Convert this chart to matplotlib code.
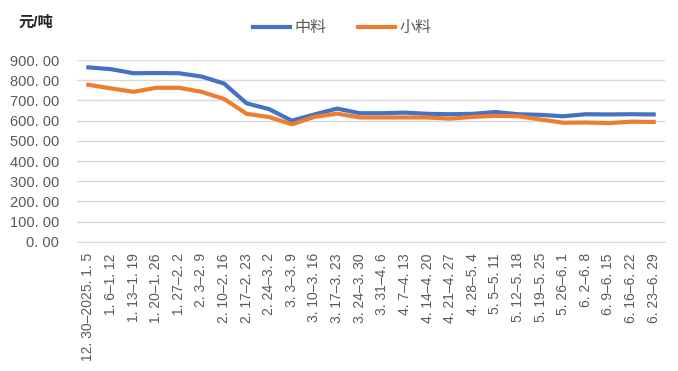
import matplotlib
matplotlib.use("Agg")
import matplotlib.pyplot as plt
import numpy as np

plt.rcParams['font.family'] = ['Liberation Sans', 'Noto Sans CJK SC', 'DejaVu Sans']

weeks = ["12. 30–2025. 1. 5", "1. 6–1. 12", "1. 13–1. 19", "1. 20–1. 26", "1. 27–2. 2",
         "2. 3–2. 9", "2. 10–2. 16", "2. 17–2. 23", "2. 24–3. 2", "3. 3–3. 9",
         "3. 10–3. 16", "3. 17–3. 23", "3. 24–3. 30", "3. 31–4. 6", "4. 7–4. 13",
         "4. 14–4. 20", "4. 21–4. 27", "4. 28–5. 4", "5. 5–5. 11", "5. 12–5. 18",
         "5. 19–5. 25", "5. 26–6. 1", "6. 2–6. 8", "6. 9–6. 15", "6. 16–6. 22",
         "6. 23–6. 29"]

medium = [864, 855, 835, 836, 835, 819, 784, 686, 657, 600,
          631, 660, 637, 637, 640, 634, 632, 634, 643, 632,
          629, 622, 632, 631, 632, 631]
small = [778, 760, 743, 763, 763, 743, 708, 634, 618, 582,
         619, 635, 616, 616, 616, 616, 610, 619, 624, 622,
         606, 590, 591, 588, 595, 594]

yticks = [0, 100, 200, 300, 400, 500, 600, 700, 800, 900]

fig = plt.figure(figsize=(6.78, 3.71), dpi=100)
ax = fig.add_axes([0.1136, 0.348, 0.8672, 0.49])

x = np.arange(len(weeks))
ax.plot(x, medium, color="#4472C4", lw=3.0, label="中料", solid_joinstyle="round")
ax.plot(x, small, color="#ED7D31", lw=3.0, label="小料", solid_joinstyle="round")

ax.set_xlim(-0.5, len(weeks) - 0.5)
ax.set_ylim(0, 900)
ax.set_yticks(yticks)
ax.set_yticklabels([f"{v}. 00" for v in yticks], color="#595959", fontsize=10.5)
ax.set_xticks(x)
ax.set_xticklabels(weeks, rotation=90, color="#595959", fontsize=10, va="top")
ax.tick_params(axis="both", length=0)
ax.tick_params(axis="y", pad=13)
ax.tick_params(axis="x", pad=8)
ax.grid(axis="y", color="#d9d9d9", lw=1)
ax.set_axisbelow(True)
for s in ["top", "right", "left"]:
    ax.spines[s].set_visible(False)
ax.spines["bottom"].set_color("#d9d9d9")
ax.spines["bottom"].set_zorder(0)

fig.text(0.027, 0.94, "元/吨", fontsize=11, fontweight="bold", color="#262626",
         va="center", ha="left")
fig.legend(loc="center", bbox_to_anchor=(0.505, 0.925), ncol=2, frameon=False,
           fontsize=11.5, handlelength=2.3, columnspacing=2.0, handletextpad=0.3,
           labelcolor="#595959")

fig.savefig("out.png", dpi=100)
